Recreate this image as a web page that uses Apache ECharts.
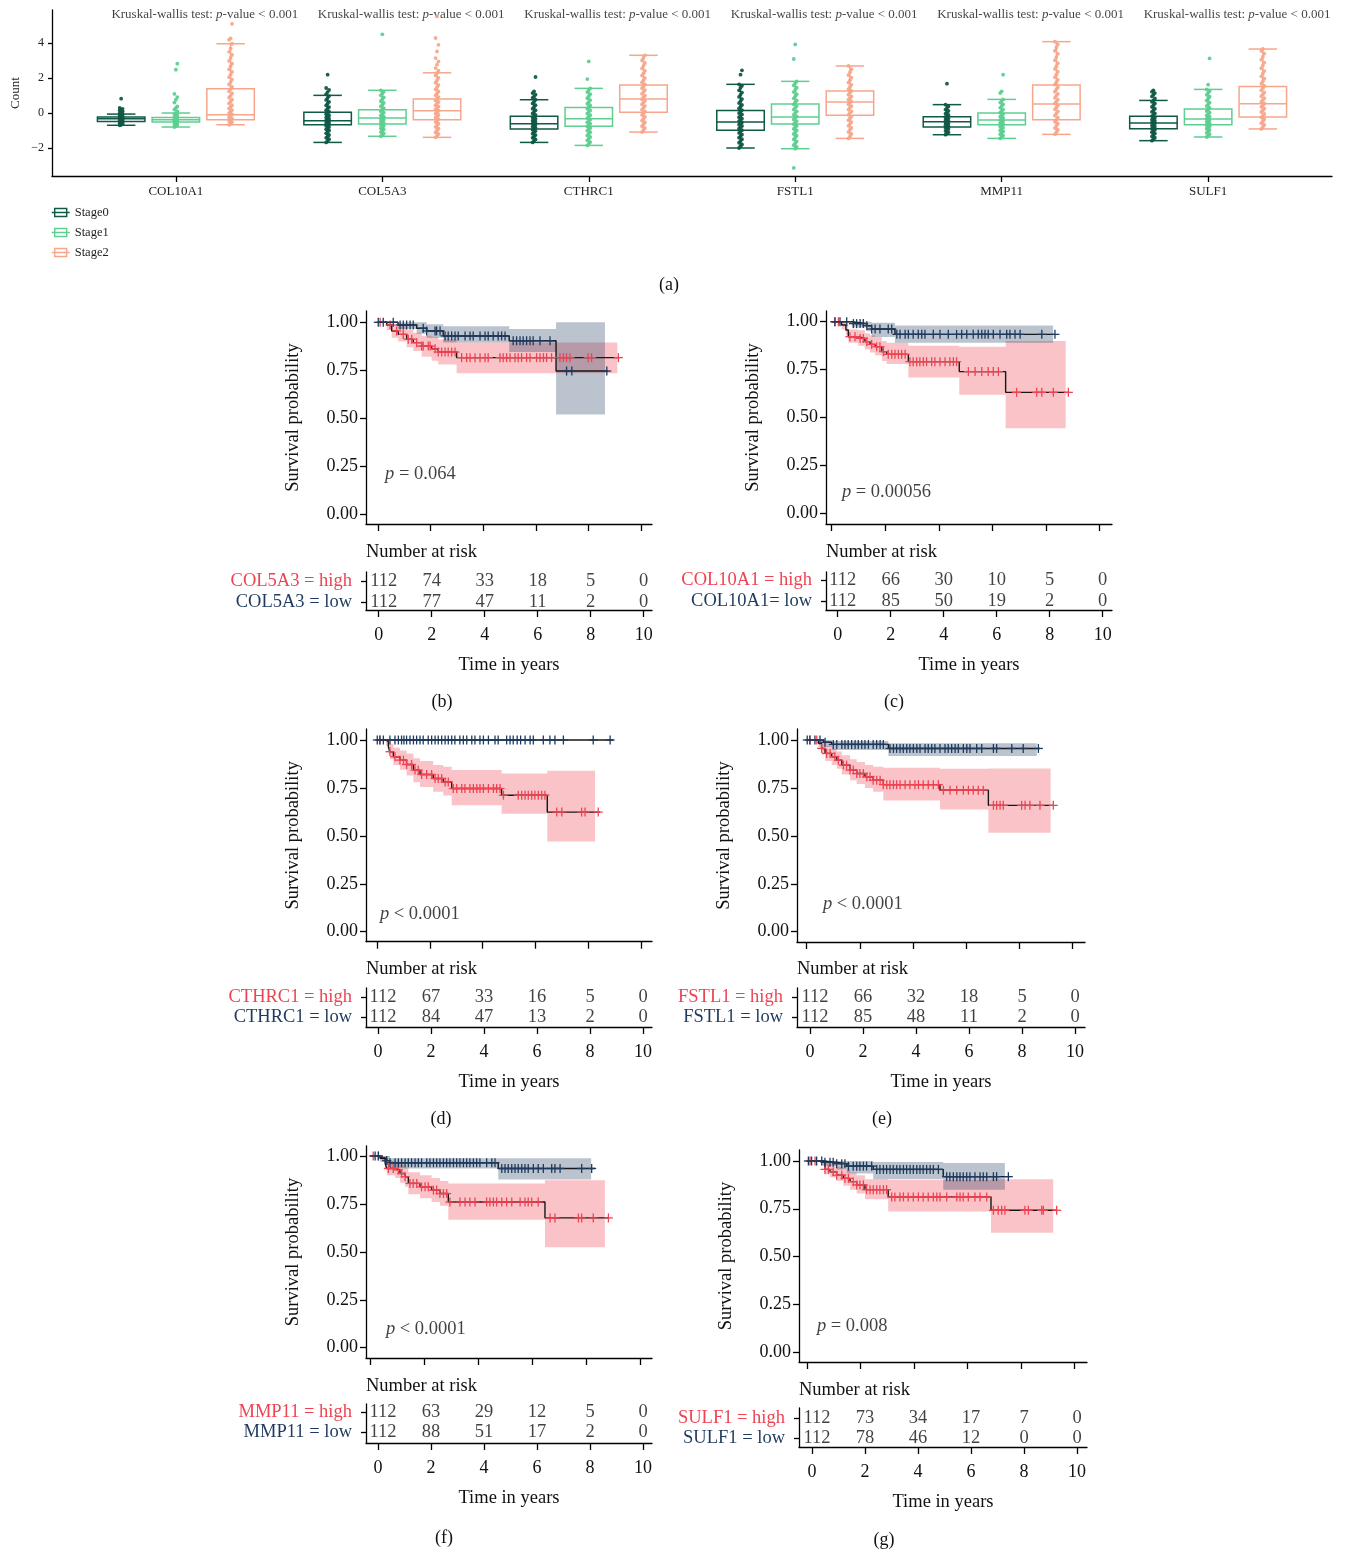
<!DOCTYPE html>
<html>
<head>
<meta charset="utf-8">
<script src="https://cdn.jsdelivr.net/npm/echarts@6/dist/echarts.min.js"></script>
<style>
html,body{margin:0;padding:0;background:#fff}
#main{width:1347px;height:1554px}
</style>
</head>
<body>
<div id="main"></div>
<script>
// ---------- Panel (a): expression by stage ----------
const genes = ['COL10A1', 'COL5A3', 'CTHRC1', 'FSTL1', 'MMP11', 'SULF1'];
const stageNames = ['Stage0', 'Stage1', 'Stage2'];
const countTicks = [-2, 0, 2, 4];
const kruskalNote = 'p-value < 0.001';

// [lower whisker, Q1, median, Q3, upper whisker] per gene
const stage0Box = [[-0.70,-0.48,-0.32,-0.23,-0.06],[-1.68,-0.67,-0.44,0.04,1.01],[-1.68,-0.91,-0.61,-0.19,0.76],[-2.00,-0.99,-0.51,0.15,1.64],[-1.24,-0.80,-0.50,-0.21,0.48],[-1.58,-0.90,-0.57,-0.19,0.72]];
const stage1Box = [[-0.80,-0.51,-0.38,-0.25,0.00],[-1.33,-0.63,-0.29,0.19,1.30],[-1.85,-0.76,-0.32,0.32,1.41],[-2.04,-0.63,-0.23,0.51,1.81],[-1.45,-0.67,-0.40,0.00,0.78],[-1.37,-0.67,-0.34,0.23,1.35]];
const stage2Box = [[-0.67,-0.38,-0.10,1.39,3.96],[-1.39,-0.38,0.13,0.80,2.30],[-1.09,0.04,0.80,1.60,3.30],[-1.45,-0.13,0.63,1.26,2.69],[-1.22,-0.38,0.51,1.60,4.08],[-0.91,-0.23,0.53,1.52,3.66]];

// sample values drawn over each box
const stage0Values = [
  [-0.70,-0.67,-0.63,-0.6,-0.57,-0.54,-0.51,-0.48,-0.45,-0.42,-0.39,-0.36,-0.33,-0.3,-0.27,-0.24,-0.2,-0.16,-0.12,-0.08,-0.04,0.0,0.05,0.1,0.15,0.19,0.24,0.29,0.82],
  [-1.68,-1.6,-1.5,-1.42,-1.33,-1.25,-1.16,-1.08,-1.0,-0.93,-0.86,-0.8,-0.74,-0.68,-0.62,-0.57,-0.52,-0.47,-0.42,-0.37,-0.32,-0.26,-0.2,-0.14,-0.07,0.0,0.08,0.16,0.25,0.34,0.44,0.54,0.64,0.75,0.86,0.97,1.08,1.2,1.32,1.43,2.19],
  [-1.68,-1.6,-1.51,-1.42,-1.34,-1.26,-1.18,-1.1,-1.03,-0.96,-0.9,-0.84,-0.78,-0.72,-0.66,-0.61,-0.56,-0.5,-0.44,-0.38,-0.32,-0.25,-0.18,-0.1,-0.02,0.07,0.16,0.25,0.35,0.45,0.55,0.65,0.76,0.86,0.95,1.05,1.14,1.24,2.06],
  [-2.0,-1.9,-1.8,-1.7,-1.6,-1.5,-1.41,-1.32,-1.23,-1.14,-1.06,-0.98,-0.9,-0.82,-0.74,-0.67,-0.6,-0.53,-0.46,-0.39,-0.32,-0.24,-0.16,-0.08,0.0,0.08,0.17,0.26,0.36,0.46,0.57,0.68,0.8,0.92,1.04,1.17,1.3,1.44,1.56,1.64,2.19,2.44],
  [-1.24,-1.17,-1.1,-1.03,-0.97,-0.91,-0.85,-0.8,-0.75,-0.7,-0.65,-0.6,-0.55,-0.5,-0.45,-0.4,-0.35,-0.3,-0.24,-0.18,-0.11,-0.04,0.04,0.12,0.2,0.29,0.38,0.48,1.68],
  [-1.58,-1.5,-1.41,-1.33,-1.25,-1.17,-1.1,-1.03,-0.96,-0.9,-0.84,-0.78,-0.72,-0.66,-0.6,-0.55,-0.5,-0.44,-0.38,-0.32,-0.25,-0.18,-0.1,-0.02,0.07,0.16,0.25,0.35,0.45,0.55,0.64,0.72,0.83,0.95,1.05,1.14,1.22,1.3]
];
const stage1Values = [
  [-0.8,-0.74,-0.69,-0.64,-0.6,-0.56,-0.52,-0.48,-0.45,-0.42,-0.39,-0.36,-0.33,-0.3,-0.26,-0.22,-0.17,-0.12,-0.06,0.0,0.1,0.2,0.29,0.38,0.6,0.76,0.91,1.09,2.48,2.82],
  [-1.33,-1.25,-1.17,-1.09,-1.01,-0.94,-0.87,-0.8,-0.74,-0.68,-0.62,-0.56,-0.5,-0.44,-0.38,-0.32,-0.26,-0.2,-0.13,-0.06,0.02,0.1,0.19,0.28,0.38,0.48,0.58,0.68,0.79,0.9,1.01,1.12,1.21,1.3,4.5],
  [-1.85,-1.76,-1.66,-1.56,-1.46,-1.37,-1.28,-1.19,-1.1,-1.01,-0.93,-0.85,-0.77,-0.69,-0.61,-0.53,-0.45,-0.37,-0.29,-0.21,-0.12,-0.03,0.06,0.15,0.24,0.33,0.43,0.53,0.63,0.74,0.85,0.96,1.08,1.2,1.31,1.41,1.94,2.95],
  [-3.14,-2.04,-1.94,-1.84,-1.73,-1.62,-1.51,-1.4,-1.3,-1.2,-1.1,-1.0,-0.91,-0.82,-0.73,-0.64,-0.55,-0.46,-0.37,-0.28,-0.19,-0.1,0.0,0.1,0.2,0.3,0.4,0.5,0.61,0.72,0.84,0.96,1.08,1.2,1.32,1.45,1.58,1.7,1.81,3.09,3.92],
  [-1.45,-1.37,-1.29,-1.21,-1.13,-1.05,-0.98,-0.91,-0.84,-0.77,-0.7,-0.64,-0.58,-0.52,-0.46,-0.4,-0.34,-0.28,-0.21,-0.14,-0.06,0.02,0.11,0.2,0.3,0.4,0.5,0.6,0.7,0.78,1.14,1.24,2.19],
  [-1.37,-1.29,-1.21,-1.13,-1.05,-0.97,-0.9,-0.83,-0.76,-0.7,-0.64,-0.58,-0.52,-0.46,-0.4,-0.34,-0.28,-0.21,-0.14,-0.06,0.02,0.11,0.2,0.3,0.4,0.5,0.6,0.71,0.82,0.93,1.04,1.15,1.25,1.35,1.62,3.12]
];
const stage2Values = [
  [-0.67,-0.6,-0.52,-0.45,-0.38,-0.31,-0.24,-0.16,-0.08,0.0,0.08,0.17,0.26,0.35,0.45,0.55,0.66,0.77,0.88,1.0,1.12,1.24,1.37,1.5,1.63,1.77,1.91,2.05,2.2,2.35,2.5,2.66,2.82,2.98,3.15,3.32,3.5,3.7,3.96,4.19,4.27,5.1],
  [-1.39,-1.3,-1.2,-1.1,-1.0,-0.9,-0.8,-0.7,-0.61,-0.52,-0.43,-0.35,-0.27,-0.19,-0.11,-0.03,0.05,0.13,0.21,0.29,0.37,0.45,0.54,0.63,0.72,0.81,0.91,1.01,1.12,1.23,1.35,1.47,1.6,1.73,1.87,2.01,2.15,2.3,2.42,2.57,2.76,2.95,3.14,3.52,3.9,4.29,5.52],
  [-1.09,-0.97,-0.86,-0.75,-0.64,-0.53,-0.43,-0.32,-0.22,-0.11,-0.01,0.09,0.19,0.3,0.4,0.49,0.6,0.7,0.79,0.9,1.0,1.1,1.21,1.31,1.42,1.52,1.64,1.75,1.88,2.0,2.14,2.27,2.41,2.55,2.7,2.86,3.01,3.15,3.3],
  [-1.45,-1.33,-1.2,-1.09,-0.96,-0.85,-0.73,-0.63,-0.52,-0.41,-0.31,-0.2,-0.1,0.01,0.1,0.2,0.31,0.4,0.5,0.59,0.68,0.77,0.86,0.95,1.05,1.16,1.26,1.37,1.49,1.61,1.74,1.88,2.02,2.17,2.33,2.5,2.69],
  [-1.22,-1.1,-0.97,-0.86,-0.74,-0.61,-0.5,-0.38,-0.26,-0.15,-0.02,0.1,0.21,0.32,0.43,0.55,0.65,0.76,0.87,0.99,1.1,1.22,1.35,1.48,1.62,1.76,1.9,2.05,2.2,2.36,2.52,2.68,2.85,3.02,3.2,3.38,3.56,3.75,3.92,4.08],
  [-0.91,-0.8,-0.68,-0.58,-0.47,-0.36,-0.25,-0.15,-0.05,0.06,0.15,0.25,0.35,0.45,0.55,0.65,0.75,0.85,0.96,1.07,1.18,1.3,1.42,1.55,1.68,1.82,1.96,2.1,2.25,2.4,2.56,2.72,2.88,3.05,3.22,3.4,3.55,3.66]
];

// ---------- Survival panels (b)-(g) ----------
const riskTimes = [0, 2, 4, 6, 8, 10];
const survTicks = [0, 0.25, 0.5, 0.75, 1];
const pValues = ['= 0.064', '= 0.00056', '< 0.0001', '< 0.0001', '< 0.0001', '= 0.008'];
const pAnchors = [[0.27, 0.21], [0.38, 0.113], [0.11, 0.092], [0.61, 0.145], [0.59, 0.098], [0.36, 0.136]];

// steps: [time, survival]; bands: [time, lower, upper]; censor: times
const col5a3HighSteps = [[0,1],[0.33,0.986],[0.52,0.955],[0.77,0.937],[1.09,0.912],[1.34,0.894],[1.66,0.876],[2.04,0.862],[2.29,0.845],[2.99,0.816],[9.2,0.816]];
const col5a3HighBand = [[0,1,1],[0.33,0.96,1],[0.52,0.92,0.99],[0.77,0.9,0.98],[1.09,0.87,0.96],[1.34,0.85,0.945],[1.66,0.82,0.93],[2.04,0.8,0.925],[2.29,0.78,0.91],[2.99,0.735,0.895],[9.1,0.735,0.895]];
const col5a3HighCensor = [0.08,0.46,0.71,0.96,1.15,1.28,1.47,1.66,1.72,1.91,1.98,2.17,2.29,2.42,2.55,2.67,2.80,2.93,3.18,3.37,3.50,3.69,3.88,4.07,4.19,4.64,4.76,4.89,5.02,5.21,5.33,5.46,5.65,5.78,6.03,6.16,6.29,6.41,6.60,6.92,7.05,7.17,7.30,7.99,8.12,9.14];
const col5a3LowSteps = [[0,1],[0.76,0.986],[1.47,0.969],[1.85,0.955],[2.48,0.929],[4.99,0.904],[6.77,0.746],[8.76,0.746]];
const col5a3LowBand = [[0,1,1],[0.76,0.965,1],[1.47,0.94,1],[1.85,0.92,0.99],[2.48,0.895,0.98],[4.99,0.845,0.965],[6.77,0.52,1],[8.63,0.52,1]];
const col5a3LowCensor = [0.01,0.20,0.58,0.84,0.96,1.09,1.22,1.34,1.72,1.85,2.17,2.23,2.36,2.55,2.67,2.80,2.93,3.05,3.31,3.50,3.62,3.88,4.07,4.19,4.38,4.57,4.70,4.83,5.14,5.27,5.40,5.52,5.65,5.78,5.90,6.16,6.54,7.17,7.37,8.70];
const col5a3RiskHigh = [112, 74, 33, 18, 5, 0];
const col5a3RiskLow = [112, 77, 47, 11, 2, 0];

const col10a1HighSteps = [[0,1],[0.37,0.983],[0.53,0.957],[0.62,0.922],[0.99,0.913],[1.24,0.896],[1.43,0.882],[1.62,0.87],[1.87,0.844],[2.05,0.83],[2.86,0.792],[4.76,0.74],[6.49,0.632],[8.83,0.632]];
const col10a1HighBand = [[0,1,1],[0.37,0.96,1],[0.53,0.93,0.99],[0.62,0.89,0.96],[0.99,0.875,0.955],[1.24,0.855,0.94],[1.43,0.84,0.93],[1.62,0.825,0.92],[1.87,0.795,0.9],[2.05,0.78,0.89],[2.86,0.71,0.875],[4.76,0.62,0.87],[6.49,0.445,0.9],[8.73,0.445,0.9]];
const col10a1HighCensor = [0.12,0.25,0.68,0.87,1.06,1.18,1.31,1.49,1.68,1.80,1.93,2.11,2.24,2.36,2.49,2.61,2.74,2.92,3.04,3.17,3.29,3.42,3.54,3.73,3.85,4.04,4.23,4.41,4.54,4.66,5.10,5.35,5.60,5.84,6.03,6.22,6.90,7.65,7.84,8.27,8.83];
const col10a1LowSteps = [[0,1],[0.75,0.99],[1.31,0.979],[1.49,0.962],[2.36,0.934],[8.33,0.934]];
const col10a1LowBand = [[0,1,1],[0.75,0.97,1],[1.31,0.95,1],[1.49,0.92,0.995],[2.36,0.89,0.98],[8.26,0.89,0.98]];
const col10a1LowCensor = [0.12,0.31,0.56,0.81,0.93,1.06,1.18,1.31,1.49,1.62,1.80,2.11,2.24,2.43,2.55,2.74,2.86,3.04,3.23,3.36,3.48,3.79,4.04,4.35,4.66,4.85,5.04,5.28,5.47,5.60,5.72,5.84,6.03,6.28,6.53,6.65,6.84,7.03,7.84,8.33];
const col10a1RiskHigh = [112, 66, 30, 10, 5, 0];
const col10a1RiskLow = [112, 85, 50, 19, 2, 0];

const cthrc1HighSteps = [[0,1],[0.34,0.991],[0.43,0.965],[0.49,0.939],[0.62,0.913],[0.87,0.895],[1.12,0.872],[1.38,0.843],[1.63,0.82],[2.13,0.799],[2.51,0.781],[2.83,0.747],[4.72,0.712],[6.45,0.624],[8.45,0.624]];
const cthrc1HighBand = [[0,1,1],[0.34,0.97,1],[0.43,0.93,0.995],[0.49,0.9,0.98],[0.62,0.87,0.96],[0.87,0.845,0.945],[1.12,0.815,0.93],[1.38,0.78,0.905],[1.63,0.755,0.89],[2.13,0.73,0.87],[2.51,0.71,0.86],[2.83,0.66,0.843],[4.72,0.615,0.825],[6.45,0.47,0.84],[8.26,0.47,0.84]];
const cthrc1HighCensor = [0.11,0.49,0.68,0.87,1.00,1.12,1.31,1.44,1.56,1.69,1.88,2.07,2.20,2.32,2.45,2.58,2.70,2.89,3.02,3.21,3.33,3.52,3.65,3.78,3.90,4.03,4.22,4.41,4.53,4.66,4.79,5.35,5.48,5.61,5.73,5.86,5.98,6.11,6.24,6.36,6.81,7.00,7.75,7.88,8.38];
const cthrc1LowSteps = [[0,1],[8.95,1]];
const cthrc1LowBand = [[0,1,1],[8.95,1,1]];
const cthrc1LowCensor = [0.01,0.11,0.24,0.49,0.68,0.81,0.93,1.02,1.12,1.25,1.38,1.50,1.63,1.75,1.94,2.07,2.20,2.32,2.45,2.58,2.70,2.83,2.95,3.14,3.27,3.40,3.59,3.71,3.90,4.03,4.22,4.47,4.59,4.91,5.04,5.16,5.31,5.44,5.61,5.80,5.92,6.30,6.55,6.74,7.06,8.19,8.83];
const cthrc1RiskHigh = [112, 67, 33, 16, 5, 0];
const cthrc1RiskLow = [112, 84, 47, 13, 2, 0];

const fstl1HighSteps = [[0,1],[0.44,0.983],[0.56,0.956],[0.69,0.93],[0.94,0.913],[1.13,0.895],[1.32,0.869],[1.63,0.843],[1.88,0.825],[2.19,0.808],[2.50,0.79],[2.88,0.767],[5.01,0.738],[6.83,0.659],[9.27,0.659]];
const fstl1HighBand = [[0,1,1],[0.44,0.96,1],[0.56,0.925,0.99],[0.69,0.89,0.97],[0.94,0.87,0.955],[1.13,0.85,0.94],[1.32,0.82,0.92],[1.63,0.79,0.9],[1.88,0.77,0.885],[2.19,0.75,0.87],[2.50,0.73,0.86],[2.88,0.685,0.855],[5.01,0.638,0.85],[6.83,0.516,0.851],[9.17,0.516,0.851]];
const fstl1HighCensor = [0.12,0.38,0.56,0.75,0.88,1.06,1.19,1.38,1.50,1.63,1.75,1.88,2.00,2.13,2.26,2.38,2.50,2.63,2.76,2.88,3.01,3.13,3.26,3.38,3.51,3.70,3.88,4.07,4.20,4.38,4.57,4.76,4.95,5.14,5.39,5.64,5.89,6.08,6.26,6.45,6.64,7.02,7.14,7.27,7.39,8.08,8.21,8.39,8.77,9.27];
const fstl1LowSteps = [[0,1],[0.63,0.988],[0.94,0.977],[3.07,0.956],[8.77,0.956]];
const fstl1LowBand = [[0,1,1],[0.63,0.965,1],[0.94,0.948,0.995],[3.07,0.916,0.983],[8.65,0.916,0.983]];
const fstl1LowCensor = [0.02,0.12,0.31,0.50,0.69,1.00,1.13,1.32,1.44,1.56,1.69,1.82,1.94,2.07,2.19,2.32,2.50,2.63,2.76,2.88,3.13,3.26,3.38,3.51,3.63,3.76,3.88,4.01,4.14,4.26,4.45,4.57,4.70,4.82,5.01,5.20,5.32,5.45,5.58,5.70,5.89,6.02,6.14,6.39,6.58,7.02,7.14,7.71,8.14,8.71];
const fstl1RiskHigh = [112, 66, 32, 18, 5, 0];
const fstl1RiskLow = [112, 85, 48, 11, 2, 0];

const mmp11HighSteps = [[0,1],[0.43,0.988],[0.56,0.962],[0.62,0.935],[0.93,0.927],[1.11,0.909],[1.30,0.892],[1.42,0.857],[1.85,0.839],[2.28,0.822],[2.59,0.804],[2.90,0.76],[6.48,0.677],[8.83,0.677]];
const mmp11HighBand = [[0,1,1],[0.43,0.97,1],[0.56,0.93,0.99],[0.62,0.9,0.975],[0.93,0.885,0.97],[1.11,0.86,0.955],[1.30,0.84,0.94],[1.42,0.8,0.915],[1.85,0.78,0.9],[2.28,0.76,0.885],[2.59,0.74,0.87],[2.90,0.668,0.857],[6.48,0.524,0.874],[8.7,0.524,0.874]];
const mmp11HighCensor = [0.12,0.31,0.68,0.86,1.05,1.17,1.30,1.48,1.60,1.73,1.91,2.04,2.16,2.35,2.47,2.59,2.72,2.84,2.96,3.33,3.52,3.70,3.89,4.32,4.44,4.57,4.69,4.88,5.06,5.25,5.56,5.74,5.86,5.99,6.23,6.67,6.85,7.72,7.84,8.27,8.83];
const mmp11LowSteps = [[0,1],[0.37,0.988],[0.62,0.976],[0.74,0.965],[4.75,0.935],[8.33,0.935]];
const mmp11LowBand = [[0,1,1],[0.37,0.97,1],[0.62,0.955,1],[0.74,0.935,0.988],[4.75,0.878,0.988],[8.19,0.878,0.988]];
const mmp11LowCensor = [0.19,0.31,0.62,0.74,0.93,1.05,1.17,1.30,1.42,1.54,1.67,1.79,1.91,2.10,2.22,2.35,2.47,2.59,2.72,2.84,2.96,3.09,3.21,3.33,3.46,3.58,3.70,3.83,3.95,4.07,4.32,4.51,4.63,4.88,5.00,5.12,5.25,5.37,5.49,5.62,5.74,5.86,6.05,6.23,6.42,6.73,6.85,7.04,7.84,8.21];
const mmp11RiskHigh = [112, 63, 29, 12, 5, 0];
const mmp11RiskLow = [112, 88, 51, 17, 2, 0];

const sulf1HighSteps = [[0,1],[0.54,0.995],[0.66,0.956],[0.85,0.944],[1.10,0.926],[1.35,0.909],[1.60,0.892],[1.85,0.875],[2.16,0.85],[3.03,0.812],[6.88,0.742],[9.34,0.742]];
const sulf1HighBand = [[0,1,1],[0.54,0.975,1],[0.66,0.93,0.99],[0.85,0.915,0.98],[1.10,0.895,0.97],[1.35,0.87,0.955],[1.60,0.85,0.94],[1.85,0.83,0.925],[2.16,0.8,0.905],[3.03,0.735,0.9],[6.88,0.625,0.905],[9.21,0.625,0.905]];
const sulf1HighCensor = [0.10,0.29,0.66,0.79,0.97,1.10,1.29,1.41,1.54,1.72,1.85,1.97,2.10,2.22,2.35,2.47,2.60,2.72,2.85,2.97,3.16,3.28,3.47,3.60,3.78,3.97,4.16,4.34,4.53,4.72,4.85,4.97,5.22,5.60,5.72,5.84,6.03,6.28,6.47,6.72,6.97,7.15,7.28,7.40,8.15,8.28,8.78,8.84,9.34];
const sulf1LowSteps = [[0,1],[0.6,0.993],[1.10,0.986],[1.48,0.973],[2.47,0.956],[5.09,0.918],[7.59,0.918]];
const sulf1LowBand = [[0,1,1],[0.6,0.975,1],[1.10,0.955,1],[1.48,0.935,1],[2.47,0.905,0.995],[5.09,0.85,0.99],[7.40,0.85,0.99]];
const sulf1LowCensor = [0.04,0.16,0.35,0.54,0.66,0.85,0.97,1.10,1.29,1.41,1.54,1.72,1.85,1.97,2.10,2.22,2.41,2.60,2.72,2.85,2.97,3.10,3.22,3.35,3.47,3.60,3.72,3.85,3.97,4.10,4.22,4.34,4.47,4.60,4.72,4.91,5.22,5.34,5.47,5.60,5.72,5.84,5.97,6.09,6.28,6.47,6.59,6.72,6.97,7.09,7.53];
const sulf1RiskHigh = [112, 73, 34, 17, 7, 0];
const sulf1RiskLow = [112, 78, 46, 12, 0, 0];

// ---------- Styling and layout ----------
const FONT = 'Liberation Serif';
const INK = '#111';
const RED = '#ee4352';
const NAVY = '#1f3a5d';
const STEP_INK = '#171717';
const HIGH_FILL = 'rgba(240,67,82,0.32)';
const LOW_FILL = 'rgba(31,58,93,0.30)';
const STAGE_COLORS = ['#0f5946', '#5dcf90', '#f7a68b'];
const STAGE_OFFSET = [-0.265, 0, 0.265];
const BOX_WIDTH = 0.23;
const KM_FONT = 18.5;
const KM_TICK_FONT = 18;

// pixel frames of each survival panel and its risk table
const frameB = {ax:366, top:311, y1:322.3, y0:514.3, base:524, right:652, t0:378, ppy:26.3, riskTop:572, riskBase:610, rowHigh:581, rowLow:602, r0:378.7, rppy:26.5, narY:552, tagX:442, tagY:702};
const frameC = {ax:826, top:311, y1:321.7, y0:513.7, base:524, right:1112, t0:831.7, ppy:26.8, riskTop:572, riskBase:610, rowHigh:580, rowLow:601, r0:837.7, rppy:26.5, narY:552, tagX:894, tagY:702};
const frameD = {ax:366, top:729, y1:740, y0:931.7, base:941.7, right:652, t0:377, ppy:26.4, riskTop:988, riskBase:1027, rowHigh:997, rowLow:1017, r0:378, rppy:26.5, narY:969, tagX:441, tagY:1119};
const frameE = {ax:797, top:729, y1:740, y0:931.7, base:942, right:1085, t0:806.7, ppy:26.6, riskTop:988, riskBase:1027, rowHigh:997, rowLow:1017, r0:810, rppy:26.5, narY:969, tagX:882, tagY:1119};
const frameF = {ax:366, top:1146, y1:1156, y0:1347.7, base:1358, right:652, t0:370, ppy:27, riskTop:1404, riskBase:1443, rowHigh:1412, rowLow:1432, r0:378, rppy:26.5, narY:1386, tagX:444, tagY:1538};
const frameG = {ax:799, top:1150, y1:1161, y0:1352, base:1362, right:1087, t0:807.3, ppy:26.7, riskTop:1408, riskBase:1447, rowHigh:1418, rowLow:1438, r0:812, rppy:26.5, narY:1390, tagX:884, tagY:1540};

const panels = [
  {high:'COL5A3 = high', low:'COL5A3 = low', tag:'(b)', frame:frameB,
   hs:col5a3HighSteps, hb:col5a3HighBand, hc:col5a3HighCensor, ls:col5a3LowSteps, lb:col5a3LowBand, lc:col5a3LowCensor, rh:col5a3RiskHigh, rl:col5a3RiskLow},
  {high:'COL10A1 = high', low:'COL10A1= low', tag:'(c)', frame:frameC,
   hs:col10a1HighSteps, hb:col10a1HighBand, hc:col10a1HighCensor, ls:col10a1LowSteps, lb:col10a1LowBand, lc:col10a1LowCensor, rh:col10a1RiskHigh, rl:col10a1RiskLow},
  {high:'CTHRC1 = high', low:'CTHRC1 = low', tag:'(d)', frame:frameD,
   hs:cthrc1HighSteps, hb:cthrc1HighBand, hc:cthrc1HighCensor, ls:cthrc1LowSteps, lb:cthrc1LowBand, lc:cthrc1LowCensor, rh:cthrc1RiskHigh, rl:cthrc1RiskLow},
  {high:'FSTL1 = high', low:'FSTL1 = low', tag:'(e)', frame:frameE,
   hs:fstl1HighSteps, hb:fstl1HighBand, hc:fstl1HighCensor, ls:fstl1LowSteps, lb:fstl1LowBand, lc:fstl1LowCensor, rh:fstl1RiskHigh, rl:fstl1RiskLow},
  {high:'MMP11 = high', low:'MMP11 = low', tag:'(f)', frame:frameF,
   hs:mmp11HighSteps, hb:mmp11HighBand, hc:mmp11HighCensor, ls:mmp11LowSteps, lb:mmp11LowBand, lc:mmp11LowCensor, rh:mmp11RiskHigh, rl:mmp11RiskLow},
  {high:'SULF1 = high', low:'SULF1 = low', tag:'(g)', frame:frameG,
   hs:sulf1HighSteps, hb:sulf1HighBand, hc:sulf1HighCensor, ls:sulf1LowSteps, lb:sulf1LowBand, lc:sulf1LowCensor, rh:sulf1RiskHigh, rl:sulf1RiskLow}
];

// ---------- helpers ----------
function survAt(steps, t) {
  let s = steps[0][1];
  for (const [ti, si] of steps) { if (ti <= t) s = si; else break; }
  return s;
}
const axisLineStyle = {color: '#000', width: 1.3};
function textStyle(size, extra) { return Object.assign({fontFamily: FONT, fontSize: size, color: INK}, extra || {}); }

const grids = [], xAxes = [], yAxes = [], series = [], graphics = [];

// ---------- panel (a) ----------
grids.push({left: 52, top: 10, width: 1280, height: 166, outerBoundsMode: 'none'});
xAxes.push({
  type: 'value', gridIndex: 0, min: 0.4, max: 6.6,
  axisLine: {show: true, onZero: false, lineStyle: axisLineStyle},
  axisTick: {show: true, customValues: [1,2,3,4,5,6], length: 6, lineStyle: axisLineStyle},
  axisLabel: {show: true, customValues: [1,2,3,4,5,6], formatter: v => genes[Math.round(v) - 1], margin: 9, ...textStyle(13, {color: '#222'})},
  splitLine: {show: false}
});
yAxes.push({
  type: 'value', gridIndex: 0, min: -3.6, max: 5.89,
  axisLine: {show: true, onZero: false, lineStyle: axisLineStyle},
  axisTick: {show: true, customValues: countTicks, length: 4, lineStyle: axisLineStyle},
  axisLabel: {show: true, customValues: countTicks, formatter: v => (v < 0 ? '\u2212' + Math.abs(v) : String(v)), margin: 8, ...textStyle(12, {color: '#222'})},
  splitLine: {show: false},
  name: 'Count', nameLocation: 'middle', nameGap: 30, nameRotate: 90, nameMoveOverlap: false,
  nameTextStyle: textStyle(13, {color: '#222'})
});

const stageBoxes = [stage0Box, stage1Box, stage2Box];
const stageValues = [stage0Values, stage1Values, stage2Values];
stageNames.forEach((name, s) => {
  const color = STAGE_COLORS[s];
  series.push({
    type: 'custom', name, xAxisIndex: 0, yAxisIndex: 0, z: 2,
    itemStyle: {color},
    data: stageBoxes[s].map((b, i) => [i + 1 + STAGE_OFFSET[s], ...b]),
    encode: {x: 0, y: [1, 2, 3, 4, 5]},
    renderItem: (params, api) => {
      const x = api.value(0);
      const pLo = api.coord([x, api.value(1)]), pQ1 = api.coord([x, api.value(2)]);
      const pMed = api.coord([x, api.value(3)]), pQ3 = api.coord([x, api.value(4)]);
      const pHi = api.coord([x, api.value(5)]);
      const hw = api.size([BOX_WIDTH, 0])[0] / 2, cw = hw * 0.6;
      const st = {stroke: color, lineWidth: 1.5, fill: null};
      const ln = (x1, y1, x2, y2) => ({type: 'line', shape: {x1, y1, x2, y2}, style: st});
      return {type: 'group', children: [
        ln(pHi[0], pHi[1], pQ3[0], pQ3[1]),
        ln(pLo[0], pLo[1], pQ1[0], pQ1[1]),
        ln(pHi[0] - cw, pHi[1], pHi[0] + cw, pHi[1]),
        ln(pLo[0] - cw, pLo[1], pLo[0] + cw, pLo[1]),
        {type: 'rect', shape: {x: pQ3[0] - hw, y: pQ3[1], width: 2 * hw, height: pQ1[1] - pQ3[1]},
         style: {stroke: color, lineWidth: 1.5, fill: 'rgba(255,255,255,0.5)'}},
        ln(pMed[0] - hw, pMed[1], pMed[0] + hw, pMed[1])
      ]};
    }
  });
  const pts = [];
  stageValues[s].forEach((vals, i) => vals.forEach((v, k) => pts.push([i + 1 + STAGE_OFFSET[s] + ((k % 3) - 1) * 0.007, v])));
  series.push({
    type: 'scatter', name, xAxisIndex: 0, yAxisIndex: 0, z: 3, silent: true,
    symbol: 'circle', symbolSize: 3.8, itemStyle: {color, opacity: 0.95}, data: pts
  });
});
series.push({
  type: 'scatter', xAxisIndex: 0, yAxisIndex: 0, silent: true, symbolSize: 0,
  data: genes.map((g, i) => [i + 1.14, 5.63]),
  label: {show: true, position: 'inside',
    formatter: () => '{n|Kruskal-wallis test: }{i|' + kruskalNote.slice(0, 1) + '}{n|' + kruskalNote.slice(1) + '}',
    rich: {n: textStyle(13), i: textStyle(13, {fontStyle: 'italic'})}}
});
graphics.push({type: 'text', x: 669, y: 285, style: {text: '(a)', fontFamily: FONT, fontSize: 18, fill: INK, align: 'center', verticalAlign: 'middle'}});

// ---------- panels (b)-(g) ----------
panels.forEach((p, k) => {
  const f = p.frame;
  const sg = grids.length;
  // survival plot
  grids.push({left: f.ax, top: f.top, width: f.right - f.ax, height: f.base - f.top, outerBoundsMode: 'none'});
  const ppu = f.y0 - f.y1;
  xAxes.push({
    type: 'value', gridIndex: sg, min: (f.ax - f.t0) / f.ppy, max: (f.right - f.t0) / f.ppy,
    axisLine: {show: true, onZero: false, lineStyle: axisLineStyle},
    axisTick: {show: true, customValues: riskTimes, length: 7, lineStyle: axisLineStyle},
    axisLabel: {show: false}, splitLine: {show: false}
  });
  yAxes.push({
    type: 'value', gridIndex: sg, min: -(f.base - f.y0) / ppu, max: 1 + (f.y1 - f.top) / ppu,
    axisLine: {show: true, onZero: false, lineStyle: axisLineStyle},
    axisTick: {show: true, customValues: survTicks, length: 6, lineStyle: axisLineStyle},
    axisLabel: {show: true, customValues: survTicks, formatter: v => v.toFixed(2), margin: 8, ...textStyle(KM_TICK_FONT)},
    splitLine: {show: false},
    name: 'Survival probability', nameLocation: 'middle', nameGap: 63, nameRotate: 90, nameMoveOverlap: false,
    nameTextStyle: textStyle(KM_FONT)
  });
  const groups = [
    {steps: p.hs, band: p.hb, censor: p.hc, fill: HIGH_FILL, mark: RED},
    {steps: p.ls, band: p.lb, censor: p.lc, fill: LOW_FILL, mark: NAVY}
  ];
  groups.forEach(gr => {
    series.push({
      type: 'custom', xAxisIndex: sg, yAxisIndex: sg, z: 1, silent: true,
      data: [[0, 0]],
      renderItem: (params, api) => {
        const b = gr.band, pts = [];
        for (let i = 0; i < b.length - 1; i++) { pts.push(api.coord([b[i][0], b[i][2]]), api.coord([b[i + 1][0], b[i][2]])); }
        for (let i = b.length - 2; i >= 0; i--) { pts.push(api.coord([b[i + 1][0], b[i][1]]), api.coord([b[i][0], b[i][1]])); }
        return {type: 'polygon', shape: {points: pts}, style: {fill: gr.fill}};
      }
    });
  });
  groups.forEach(gr => {
    series.push({
      type: 'line', xAxisIndex: sg, yAxisIndex: sg, z: 2, silent: true, step: 'end',
      symbol: 'none', data: gr.steps, lineStyle: {color: STEP_INK, width: 1.4}
    });
  });
  groups.forEach(gr => {
    series.push({
      type: 'custom', xAxisIndex: sg, yAxisIndex: sg, z: 3, silent: true,
      data: gr.censor.map(t => [t, survAt(gr.steps, t)]),
      renderItem: (params, api) => {
        const c = api.coord([api.value(0), api.value(1)]), a = 4.5;
        const st = {stroke: gr.mark, lineWidth: 1.3};
        return {type: 'group', children: [
          {type: 'line', shape: {x1: c[0] - a, y1: c[1], x2: c[0] + a, y2: c[1]}, style: st},
          {type: 'line', shape: {x1: c[0], y1: c[1] - a, x2: c[0], y2: c[1] + a}, style: st}
        ]};
      }
    });
  });
  series.push({
    type: 'scatter', xAxisIndex: sg, yAxisIndex: sg, silent: true, symbolSize: 0,
    data: [pAnchors[k]],
    label: {show: true, position: 'right', distance: 0,
      formatter: () => '{i|p}{n| ' + pValues[k] + '}',
      rich: {n: textStyle(KM_FONT), i: textStyle(KM_FONT, {fontStyle: 'italic'})}}
  });

  // number-at-risk table
  const rg = grids.length;
  grids.push({left: f.ax, top: f.riskTop, width: f.right - f.ax, height: f.riskBase - f.riskTop, outerBoundsMode: 'none'});
  const rowGap = f.rowLow - f.rowHigh;
  xAxes.push({
    type: 'value', gridIndex: rg, min: (f.ax - f.r0) / f.rppy, max: (f.right - f.r0) / f.rppy,
    axisLine: {show: true, onZero: false, lineStyle: axisLineStyle},
    axisTick: {show: true, customValues: riskTimes, length: 7, lineStyle: axisLineStyle},
    axisLabel: {show: true, customValues: riskTimes, formatter: v => String(v), margin: 16, ...textStyle(KM_TICK_FONT)},
    splitLine: {show: false},
    name: 'Time in years', nameLocation: 'middle', nameGap: 46, nameMoveOverlap: false,
    nameTextStyle: textStyle(KM_FONT)
  });
  yAxes.push({
    type: 'value', gridIndex: rg, min: -(f.riskBase - f.rowLow) / rowGap, max: 1 + (f.rowHigh - f.riskTop) / rowGap,
    axisLine: {show: true, onZero: false, lineStyle: axisLineStyle},
    axisTick: {show: true, customValues: [0, 1], length: 5, lineStyle: axisLineStyle},
    axisLabel: {show: true, customValues: [0, 1], margin: 14,
      formatter: v => (v > 0.5 ? '{h|' + p.high + '}' : '{l|' + p.low + '}'),
      rich: {h: textStyle(KM_FONT, {color: RED}), l: textStyle(KM_FONT, {color: NAVY})}},
    splitLine: {show: false}
  });
  [[p.rh, 1], [p.rl, 0]].forEach(([vals, row]) => {
    series.push({
      type: 'scatter', xAxisIndex: rg, yAxisIndex: rg, silent: true, symbolSize: 0,
      // the first column is nudged right so it clears the table's left rule
      data: riskTimes.map((t, i) => (i === 0
        ? {value: [t, row, vals[i]], label: {offset: [5, 0]}}
        : [t, row, vals[i]])),
      label: {show: true, position: 'inside', formatter: q => String(q.value[2]), ...textStyle(KM_FONT)}
    });
  });
  graphics.push({type: 'text', x: f.ax, y: f.narY, style: {text: 'Number at risk', fontFamily: FONT, fontSize: KM_FONT, fill: INK, align: 'left', verticalAlign: 'middle'}});
  graphics.push({type: 'text', x: f.tagX, y: f.tagY, style: {text: p.tag, fontFamily: FONT, fontSize: 18, fill: INK, align: 'center', verticalAlign: 'middle'}});
});

const chart = echarts.init(document.getElementById('main'), null, {renderer: 'canvas'});
chart.setOption({
  backgroundColor: '#ffffff',
  animation: false,
  textStyle: {fontFamily: FONT},
  grid: grids,
  xAxis: xAxes,
  yAxis: yAxes,
  legend: {
    show: true, orient: 'vertical', left: 46, top: 201, itemGap: 7, itemWidth: 18, itemHeight: 10,
    selectedMode: false,
    data: stageNames.map((n, i) => ({
      name: n,
      icon: 'path://M0,5H3M15,5H18M3,1H15V9H3ZM3,5H15',
      itemStyle: {color: 'rgba(255,255,255,0)', borderColor: STAGE_COLORS[i], borderWidth: 1.4}
    })),
    textStyle: textStyle(12.5, {color: '#222'})
  },
  graphic: graphics,
  series
});
</script>
</body>
</html>
